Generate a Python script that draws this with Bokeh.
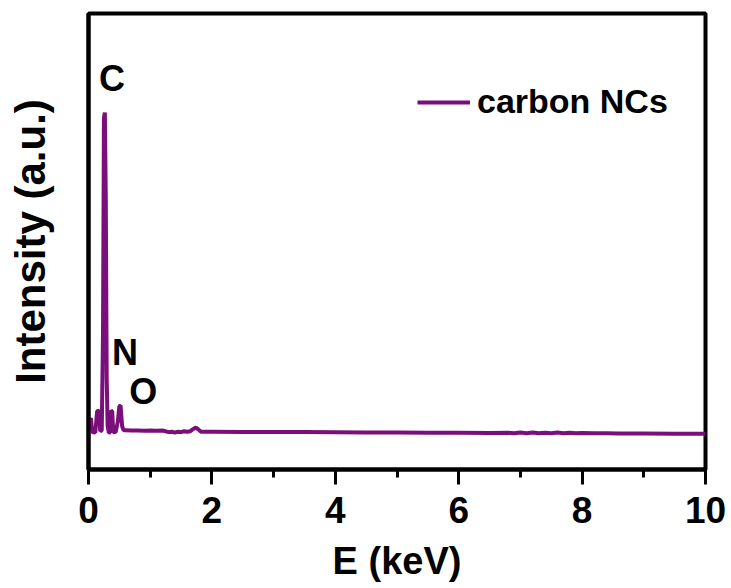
from bokeh.plotting import figure
from bokeh.models import FixedTicker, Legend, LegendItem, Range1d
from bokeh.core.properties import value
from bokeh.embed import file_html
from bokeh.resources import INLINE

# EDS spectrum (energy in keV, intensity in a.u.)
energy = [0.00, 0.02, 0.04, 0.06, 0.11, 0.14, 0.17, 0.19, 0.215, 0.235, 0.25, 0.265,
          0.28, 0.295, 0.31, 0.33, 0.35, 0.365, 0.385, 0.40, 0.44, 0.475, 0.50, 0.52,
          0.545, 0.57, 0.60, 0.70, 0.80, 0.90, 1.00, 1.10, 1.20, 1.30, 1.35, 1.40,
          1.45, 1.50, 1.55, 1.60, 1.65, 1.70, 1.74, 1.78, 1.82, 1.90, 2.0, 2.5, 3.0,
          3.5, 4.0, 4.5, 5.0, 5.5, 6.0, 6.5, 6.8, 6.9, 7.0, 7.1, 7.2, 7.3, 7.4, 7.5,
          7.6, 7.7, 7.8, 7.9, 8.0, 8.2, 8.4, 8.6, 8.8, 9.0, 9.5, 10.0]
intensity = [8.6, 11.0, 11.2, 8.2, 8.1, 12.8, 12.9, 8.4, 8.6, 30.0, 77.0, 78.3,
             60.0, 20.0, 9.5, 8.1, 8.1, 12.9, 12.7, 8.2, 8.2, 10.5, 13.9, 14.0,
             9.5, 8.6, 8.6, 8.55, 8.55, 8.5, 8.55, 8.5, 8.55, 8.2, 8.3, 8.1,
             8.3, 8.2, 8.4, 8.3, 8.4, 8.9, 9.2, 8.8, 8.3, 8.3, 8.3, 8.25, 8.2,
             8.2, 8.15, 8.1, 8.1, 8.05, 8.05, 8.0, 8.05, 7.95, 8.1, 7.95, 8.1, 7.95, 8.05, 7.95,
             8.1, 7.95, 8.05, 7.95, 8.0, 7.95, 7.95, 7.9, 7.9, 7.9, 7.85, 7.85]

series_name = "carbon NCs"
peak_names = ["C", "N", "O"]
label_energy = [0.17, 0.38, 0.66]
label_intensity = [85.8, 25.6, 17.0]

x_ticks = [0, 2, 4, 6, 8, 10]
x_minor_ticks = [1, 3, 5, 7, 9]

line_color = "#7A0F7C"
font = "Liberation Sans"

p = figure(width=731, height=588, output_backend="svg", toolbar_location=None,
           x_range=Range1d(0, 10), y_range=Range1d(0, 100),
           min_border_left=88, min_border_right=26, min_border_top=13, min_border_bottom=119)
p.xgrid.visible = False
p.ygrid.visible = False
p.background_fill_color = "white"
p.border_fill_color = "white"
p.outline_line_color = "black"
p.outline_line_width = 4

r = p.line(energy, intensity, line_color=line_color, line_width=4)

p.text(x=label_energy, y=label_intensity, text=peak_names,
       text_font=value(font), text_font_style="bold", text_font_size="36px",
       text_align="left", text_baseline="alphabetic", text_color="black")

xa = p.xaxis[0]
xa.ticker = FixedTicker(ticks=x_ticks, minor_ticks=x_minor_ticks)
xa.axis_line_width = 4
xa.major_tick_out = 15
xa.major_tick_in = 0
xa.minor_tick_out = 8
xa.minor_tick_in = 0
xa.major_tick_line_width = 3
xa.minor_tick_line_width = 3
xa.major_label_text_font = font
xa.major_label_text_font_style = "bold"
xa.major_label_text_font_size = "37px"
xa.major_label_text_color = "black"
xa.major_label_standoff = 12
xa.axis_label = "E (keV)"
xa.axis_label_text_font = font
xa.axis_label_text_font_style = "bold"
xa.axis_label_text_font_size = "38px"
xa.axis_label_text_color = "black"
xa.axis_label_standoff = 14

ya = p.yaxis[0]
ya.ticker = FixedTicker(ticks=[])
ya.axis_line_width = 4
ya.major_tick_out = 0
ya.major_tick_in = 0
ya.minor_tick_out = 0
ya.minor_tick_in = 0
ya.axis_label = "Intensity (a.u.)"
ya.axis_label_text_font = font
ya.axis_label_text_font_style = "bold"
ya.axis_label_text_font_size = "42px"
ya.axis_label_text_color = "black"
ya.axis_label_standoff = 35

legend = Legend(items=[LegendItem(label=series_name, renderers=[r])],
                location=(329, 348), border_line_color=None, background_fill_alpha=0,
                padding=0, margin=0, glyph_width=53, glyph_height=32, label_height=32,
                label_standoff=7, label_text_font=font, label_text_font_style="bold",
                label_text_font_size="34px", label_text_color="black")
p.add_layout(legend)

open("out.html", "w").write(file_html(p, INLINE))
